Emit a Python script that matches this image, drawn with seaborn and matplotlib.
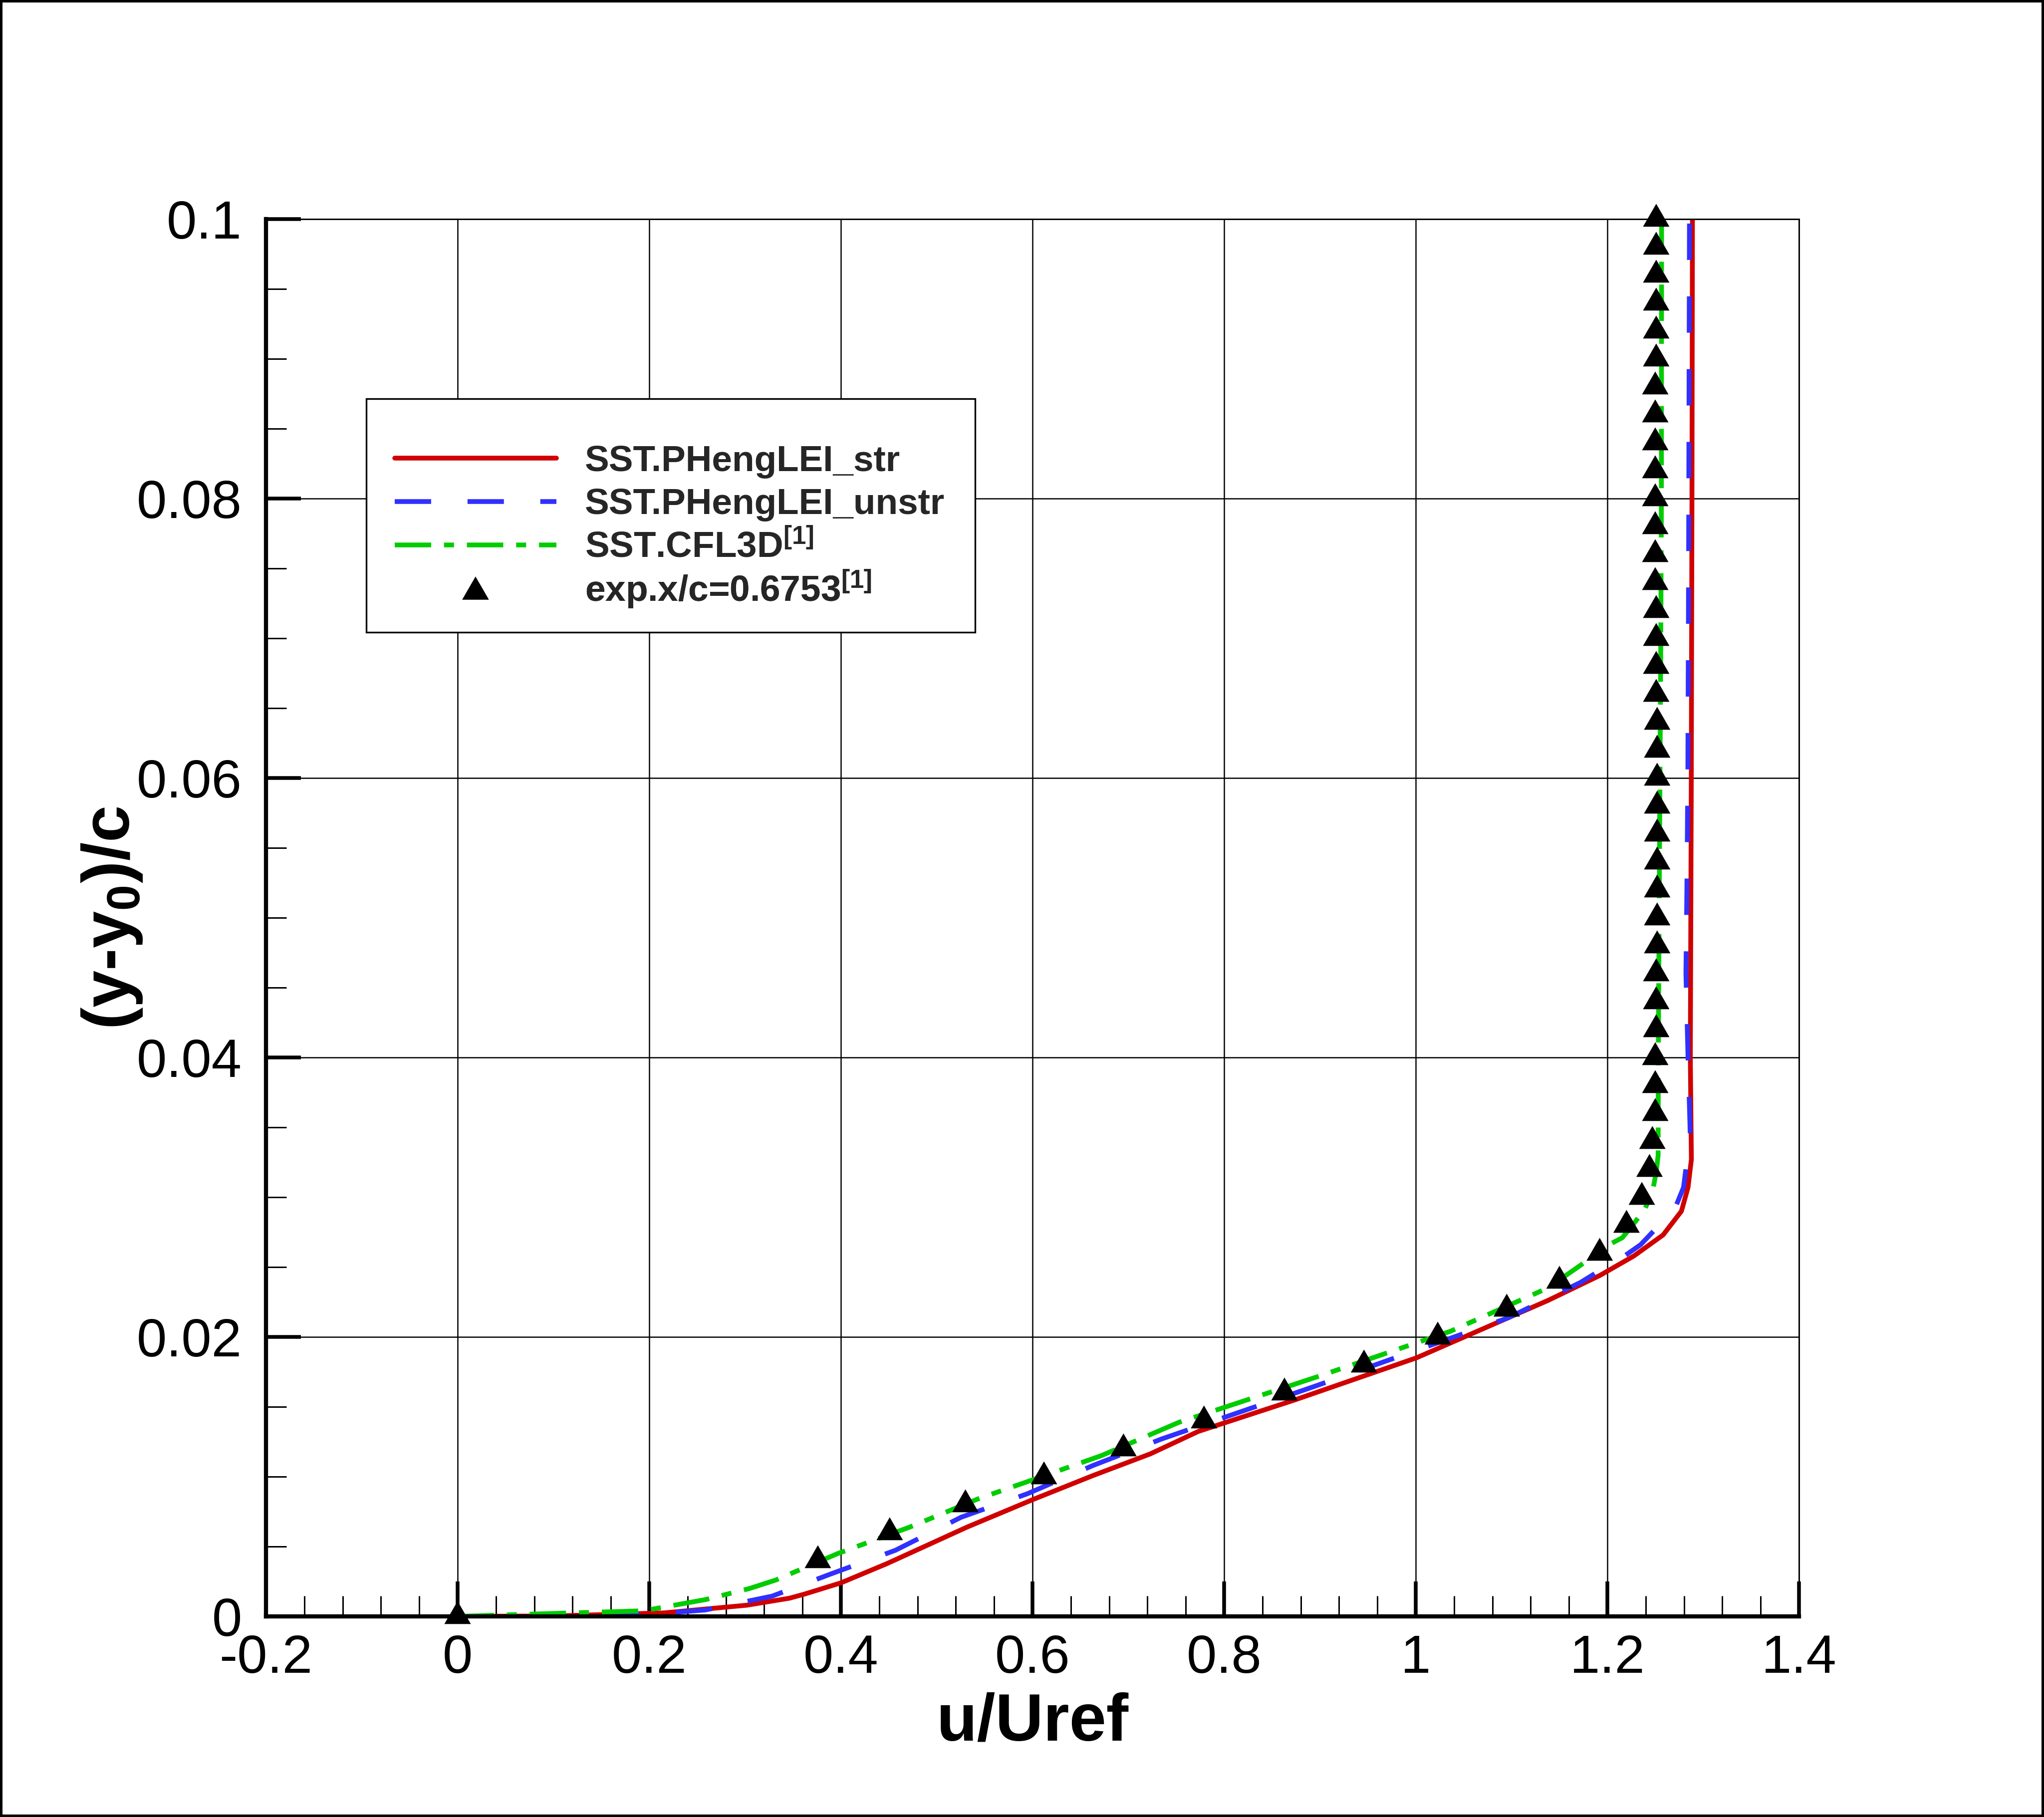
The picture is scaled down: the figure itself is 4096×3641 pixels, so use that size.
import numpy as np
import pandas as pd
import matplotlib
matplotlib.use("Agg")
import matplotlib.pyplot as plt
import seaborn as sns
from matplotlib.path import Path
from matplotlib.patches import Rectangle
from matplotlib.ticker import MultipleLocator, FixedLocator, FixedFormatter

# ---------------- data ----------------
red_u = [0.0, 0.10, 0.2154, 0.3018, 0.3463, 0.3623, 0.4001, 0.4479, 0.4898, 0.5317,
         0.6004, 0.6632, 0.723, 0.7732, 0.8737, 1.0006, 1.1377, 1.1922, 1.2278, 1.2582,
         1.2773, 1.2842, 1.2877, 1.2866, 1.2876, 1.2883, 1.2888]
red_y = [0.0, 0.00003, 0.00025, 0.0008, 0.0013, 0.0016, 0.0024, 0.00377, 0.00508, 0.00639,
         0.00836, 0.01008, 0.01163, 0.01324, 0.01549, 0.0185, 0.0226, 0.0244, 0.0258, 0.0273,
         0.0290, 0.0307, 0.0327, 0.040, 0.060, 0.080, 0.100]

blue_u = [0.0, 0.10, 0.20, 0.2586, 0.3283, 0.3881, 0.4569, 0.5257, 0.5944, 0.6632,
          0.7349, 0.8939, 0.9643, 1.0966, 1.1392, 1.172, 1.2052, 1.218, 1.2347, 1.2625,
          1.2694, 1.2795, 1.2865, 1.2842, 1.282, 1.283, 1.284, 1.2848, 1.2857]
blue_y = [0.0, 0.00003, 0.00015, 0.00046, 0.00145, 0.0030, 0.00473, 0.0071, 0.00877, 0.0108,
          0.0127, 0.01645, 0.01816, 0.02137, 0.0228, 0.0239, 0.0253, 0.0258, 0.0266, 0.0286,
          0.0290, 0.0307, 0.0345, 0.040, 0.046, 0.052, 0.060, 0.075, 0.100]

green_u = [0.0, 0.0857, 0.1938, 0.2586, 0.3044, 0.332, 0.3969, 0.4719, 0.5436, 0.6034,
           0.6721, 0.7529, 0.8969, 1.0364, 1.1378, 1.1714, 1.2017, 1.2156, 1.2286, 1.2396,
           1.2477, 1.251, 1.253, 1.2532, 1.2536, 1.2549, 1.2557, 1.2564, 1.2566]
green_y = [0.0, 0.00018, 0.0004, 0.0012, 0.00199, 0.0026, 0.0045, 0.00639, 0.00842, 0.00985,
           0.01151, 0.01389, 0.01714, 0.02041, 0.0235, 0.0251, 0.0266, 0.0271, 0.0282, 0.0292,
           0.0306, 0.0318, 0.0330, 0.040, 0.045, 0.060, 0.069, 0.080, 0.100]

exp_u = [0.0, 0.376, 0.451, 0.530, 0.612, 0.695, 0.779, 0.863, 0.946, 1.023,
         1.095, 1.150, 1.192, 1.220, 1.236, 1.244, 1.247,
         1.250, 1.250, 1.250,
         1.251, 1.251, 1.251,
         1.252, 1.252, 1.252, 1.252, 1.252, 1.252, 1.252, 1.252, 1.252,
         1.251, 1.251, 1.251, 1.251,
         1.250, 1.250, 1.250, 1.250, 1.250, 1.250, 1.250, 1.250,
         1.251, 1.251, 1.251, 1.251, 1.251, 1.251]
exp_y = [0.0, 0.004, 0.006, 0.008, 0.010, 0.012, 0.014, 0.016, 0.018, 0.020,
         0.022, 0.024, 0.026, 0.028, 0.030, 0.032, 0.034,
         0.036, 0.038, 0.040,
         0.042, 0.044, 0.046,
         0.048, 0.050, 0.052, 0.054, 0.056, 0.058, 0.060, 0.062, 0.064,
         0.066, 0.068, 0.070, 0.072,
         0.074, 0.076, 0.078, 0.080, 0.082, 0.084, 0.086, 0.088,
         0.090, 0.092, 0.094, 0.096, 0.098, 0.100]

labels = ["SST.PHengLEI_str", "SST.PHengLEI_unstr",
          "SST.CFL3D$^{\\mathbf{[1]}}$", "exp.x/c=0.6753$^{\\mathbf{[1]}}$"]
x_ticks = [-0.2, 0.0, 0.2, 0.4, 0.6, 0.8, 1.0, 1.2, 1.4]
x_ticklabels = ["-0.2", "0", "0.2", "0.4", "0.6", "0.8", "1", "1.2", "1.4"]
y_ticks = [0.0, 0.02, 0.04, 0.06, 0.08, 0.1]
y_ticklabels = ["0", "0.02", "0.04", "0.06", "0.08", "0.1"]

# ---------------- style ----------------
sns.set_theme(style="white")
plt.rcParams["font.family"] = ["Liberation Sans", "DejaVu Sans"]
plt.rcParams["mathtext.fontset"] = "custom"
plt.rcParams["mathtext.rm"] = "Liberation Sans"
plt.rcParams["mathtext.bf"] = "Liberation Sans:bold"
plt.rcParams["mathtext.it"] = "Liberation Sans:italic"
plt.rcParams["lines.scale_dashes"] = False

DPI = 300
fig = plt.figure(figsize=(4096 / DPI, 3641 / DPI), dpi=DPI, facecolor="white")
fig.patch.set_edgecolor("black")
fig.patch.set_linewidth(2.0)
ax = fig.add_axes([533 / 4096, 1 - 3239 / 3641, 3072 / 4096, 2800 / 3641])
ax.set_facecolor("white")

df_red = pd.DataFrame({"u": red_u, "y": red_y})
df_blue = pd.DataFrame({"u": blue_u, "y": blue_y})
df_green = pd.DataFrame({"u": green_u, "y": green_y})
df_exp = pd.DataFrame({"u": exp_u, "y": exp_y})

LW = 2.3
sns.lineplot(data=df_red, x="u", y="y", sort=False, estimator=None, color="#D00000",
             lw=LW, label=labels[0], ax=ax, zorder=3)
sns.lineplot(data=df_blue, x="u", y="y", sort=False, estimator=None, color="#3030FF",
             lw=LW, linestyle=(0, (17.5, 17.5)), label=labels[1], ax=ax, zorder=3)
sns.lineplot(data=df_green, x="u", y="y", sort=False, estimator=None, color="#00CC00",
             lw=LW, linestyle=(0, (17.5, 6.2, 4.8, 6.2)), label=labels[2], ax=ax, zorder=3)

tri = Path([(0.0, 0.6667), (-0.5774, -0.3333), (0.5774, -0.3333), (0.0, 0.6667)],
           [Path.MOVETO, Path.LINETO, Path.LINETO, Path.CLOSEPOLY])
sns.scatterplot(data=df_exp, x="u", y="y", marker=tri, s=216, color="black",
                edgecolor="none", linewidth=0, label=labels[3], ax=ax, zorder=5,
                clip_on=False)

ax.set_xlim(-0.2, 1.4)
ax.set_ylim(0.0, 0.1)
ax.xaxis.set_major_locator(FixedLocator(x_ticks))
ax.xaxis.set_major_formatter(FixedFormatter(x_ticklabels))
ax.yaxis.set_major_locator(FixedLocator(y_ticks))
ax.yaxis.set_major_formatter(FixedFormatter(y_ticklabels))
ax.xaxis.set_minor_locator(MultipleLocator(0.04))
ax.yaxis.set_minor_locator(MultipleLocator(0.005))

ax.grid(True, which="major", color="black", lw=0.6)
ax.set_axisbelow(True)

ax.tick_params(axis="both", which="major", direction="in", length=16.8, width=1.8,
               colors="black", labelsize=26, left=True, bottom=True, top=False, right=False)
ax.tick_params(axis="both", which="minor", direction="in", length=9.8, width=0.72,
               colors="black", left=True, bottom=True, top=False, right=False)
ax.tick_params(axis="y", which="major", pad=11.6)
ax.tick_params(axis="x", which="major", pad=8.4)

for side in ["left", "bottom"]:
    ax.spines[side].set_linewidth(2.0)
    ax.spines[side].set_color("black")
for side in ["top", "right"]:
    ax.spines[side].set_linewidth(0.7)
    ax.spines[side].set_color("black")
for side in ax.spines:
    ax.spines[side].set_visible(True)
    ax.spines[side].set_zorder(6)

ax.set_xlabel("u/Uref", fontsize=32, fontweight="bold", labelpad=4, color="black")
ax.set_ylabel("(y-y$_{\\mathbf{0}}$)/c", fontsize=32, fontweight="bold", labelpad=-3.6,
              color="black")

# legend frame (Tecplot-style box)
frame = Rectangle((0.0654, 0.7043), 0.3972, 0.1671, transform=ax.transAxes,
                  facecolor="white", edgecolor="black", linewidth=0.8, zorder=9)
ax.add_patch(frame)

# one legend row per entry, so rows are evenly spaced like the reference
handles, labs = ax.get_legend_handles_labels()
row_y = [0.8265, 0.7957, 0.7649, 0.7350]
for i, (h, l) in enumerate(zip(handles, labs)):
    lg = ax.legend([h], [l], loc="center left", bbox_to_anchor=(0.0840, row_y[i]),
                   borderaxespad=0.0, frameon=False,
                   prop={"weight": "bold", "size": 17.5},
                   handlelength=4.44, handletextpad=0.78, borderpad=0.0,
                   scatterpoints=1)
    lg.set_zorder(10)
    ax.add_artist(lg)

fig.savefig("out.png", dpi=DPI, facecolor="white")
